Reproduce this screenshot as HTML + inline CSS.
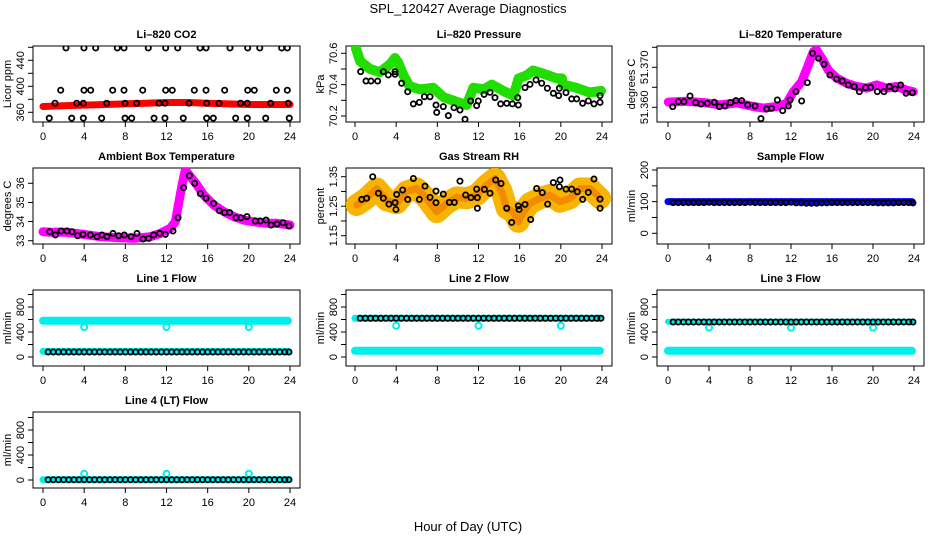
<!DOCTYPE html>
<html><head><meta charset="utf-8"><style>
body{margin:0;background:#fff}
svg{display:block;font-family:"Liberation Sans",Arial,sans-serif}
</style></head><body>
<svg id="chart" width="936" height="540" viewBox="0 0 936 540" xmlns="http://www.w3.org/2000/svg">
<text x="468" y="13" text-anchor="middle" font-size="13">SPL_120427  Average Diagnostics</text>
<text x="468" y="531" text-anchor="middle" font-size="13">Hour of Day (UTC)</text>
</svg>
<script>
// ---- data ----
const xTicks=[0,4,8,12,16,20,24];
const co2BandH=[0,2,4,6,8,10,12,14,16,18,20,22,24];
const co2BandV=[369,370,371,372,373,374,375,375,374,373,372,372,372];
const co2PtH=[2.23,3.98,5.12,7.22,7.87,10.23,11.92,13.09,15.26,15.84,18.17,19.89,21.06,23.19,23.74,1.72,3.98,4.63,6.77,7.87,9.69,11.92,12.56,14.7,15.84,17.65,19.89,20.53,22.67,23.74,1.17,3.27,3.92,6.19,7.97,9.1,11.27,11.85,14.19,15.9,17.1,19.2,19.85,22.12,23.83,0.61,2.79,3.92,5.7,7.97,8.62,10.79,11.85,13.63,15.9,16.55,18.72,19.85,21.64,23.93];
const co2PtV=[459,459,459,459,459,459,459,459,459,459,459,459,459,459,459,394,394,394,394,394,394,394,394,394,394,394,394,394,394,394,374,374,374,374,374,374,374,374,374,374,374,374,374,374,374,351,351,351,351,351,351,351,351,351,351,351,351,351,351,351];
const presBandH=[0.1,0.49,1.46,2.43,3.4,3.89,4.2,4.7,5.3,6.3,7.6,8.6,9.9,10.85,11.5,12.5,13.3,14.4,15.4,15.9,16.7,17.3,18.3,19.6,20.1,20.2,21.5,22.8,23.9];
const presBandV=[70.63,70.55,70.50,70.48,70.53,70.57,70.54,70.46,70.39,70.37,70.38,70.32,70.29,70.27,70.38,70.37,70.40,70.36,70.33,70.44,70.46,70.49,70.47,70.44,70.44,70.40,70.38,70.35,70.36];
const presPtH=[0.55,1.07,1.55,2.2,2.75,3.24,3.89,3.89,4.53,5.12,5.67,6.25,6.74,7.29,7.87,7.94,8.58,9.07,9.62,10.2,10.69,11.24,11.82,11.98,12.54,13.12,13.6,14.15,14.74,15.29,15.81,15.87,16.52,17.0,17.59,18.14,18.69,19.27,19.79,19.86,20.5,21.05,21.54,22.12,22.67,23.22,23.81,23.81];
const presPtV=[70.483,70.423,70.423,70.423,70.483,70.462,70.466,70.483,70.409,70.355,70.277,70.287,70.323,70.323,70.270,70.223,70.260,70.202,70.253,70.238,70.179,70.296,70.266,70.296,70.338,70.351,70.317,70.277,70.281,70.277,70.317,70.270,70.381,70.402,70.430,70.409,70.377,70.345,70.330,70.377,70.349,70.309,70.309,70.281,70.296,70.277,70.287,70.330];
const tempBandH=[0.03,1.82,3.77,5.07,6.7,8.33,9.3,10.6,11.58,12.23,13.04,13.69,14.18,14.5,14.99,15.64,16.46,17.43,18.41,19.38,20.36,21.33,22.31,23.28,23.93];
const tempBandV=[51.3613,51.3615,51.3611,51.3606,51.3611,51.3602,51.3598,51.3602,51.3610,51.3639,51.3664,51.3706,51.3739,51.3743,51.3723,51.3693,51.3673,51.3660,51.3652,51.3648,51.3656,51.3648,51.3652,51.3643,51.3639];
const tempPtH=[0.46,1.01,1.56,2.15,2.7,3.22,3.84,4.52,5.01,5.56,6.11,6.63,7.19,7.77,8.49,9.07,9.63,10.11,10.67,11.19,11.74,11.9,12.49,13.04,13.59,14.11,14.67,15.22,15.8,16.45,17.0,17.59,18.17,18.67,19.28,19.77,20.42,21.07,21.59,22.15,22.7,23.22,23.84];
const tempPtV=[51.36017,51.36142,51.36142,51.36283,51.36117,51.36083,51.361,51.36125,51.36017,51.36033,51.36117,51.36167,51.36167,51.36058,51.36033,51.35717,51.35958,51.35975,51.36183,51.35917,51.36033,51.36183,51.36392,51.36158,51.36617,51.3735,51.37225,51.37075,51.36808,51.36708,51.36658,51.36558,51.36517,51.36392,51.36492,51.365,51.36392,51.36392,51.36517,51.36458,51.36558,51.3635,51.36367];
const ambBandH=[0,0.71,2.33,3.95,5.57,7.19,8.81,10.43,11.4,12.37,12.86,13.18,13.51,13.83,14.32,14.96,15.61,16.58,17.56,18.53,19.5,20.47,21.77,22.74,24.0];
const ambBandV=[33.47,33.44,33.44,33.33,33.21,33.16,33.12,33.21,33.38,33.65,33.99,34.95,35.91,36.70,36.35,35.91,35.39,34.87,34.52,34.26,34.08,33.99,33.91,33.91,33.82];
const ambPtH=[0.65,1.2,1.75,2.33,2.82,3.37,3.89,4.6,5.25,5.73,6.22,6.8,7.35,7.9,8.55,9.13,9.72,10.27,10.75,11.34,11.89,12.63,13.12,13.67,14.22,14.74,15.29,15.84,16.58,17.13,17.65,18.14,18.75,19.24,19.82,20.63,21.12,21.67,22.16,22.74,23.32,23.9];
const ambPtV=[33.47,33.30,33.51,33.51,33.47,33.26,33.33,33.30,33.21,33.30,33.21,33.38,33.26,33.30,33.21,33.38,33.09,33.12,33.30,33.38,33.33,33.51,34.20,35.77,36.40,36.0,35.46,35.22,34.95,34.57,34.47,34.47,34.20,34.20,34.26,34.03,34.03,34.08,33.82,33.87,33.94,33.77];
const rhBandH=[0.16,1.13,2.11,3.08,4.05,5.02,5.99,6.96,7.94,8.91,9.88,10.85,11.82,12.79,13.6,14.25,14.74,15.39,15.87,16.36,17.0,17.98,18.95,19.92,20.89,21.86,22.83,23.81];
const rhBandV=[1.254,1.277,1.31,1.27,1.26,1.30,1.31,1.277,1.23,1.26,1.28,1.277,1.288,1.322,1.344,1.30,1.243,1.23,1.197,1.23,1.26,1.277,1.288,1.265,1.277,1.31,1.31,1.277];
const rhPtH=[0.65,1.13,1.72,2.27,2.75,3.3,3.89,3.98,4.05,4.63,5.12,5.67,6.25,6.8,7.29,7.87,7.87,8.58,9.17,9.65,10.2,10.75,11.27,11.82,11.89,11.89,12.57,13.12,13.67,14.19,14.74,15.22,15.87,15.94,16.52,17.07,17.65,18.2,18.72,19.27,19.86,19.92,20.5,21.05,21.6,22.12,22.67,23.22,23.81,23.81];
const rhPtV=[1.273,1.277,1.35,1.294,1.277,1.257,1.262,1.239,1.29,1.305,1.273,1.344,1.273,1.318,1.28,1.301,1.262,1.291,1.263,1.263,1.335,1.288,1.279,1.308,1.243,1.279,1.307,1.294,1.339,1.327,1.243,1.195,1.251,1.239,1.256,1.205,1.310,1.296,1.257,1.330,1.316,1.339,1.308,1.308,1.299,1.273,1.297,1.342,1.274,1.243];
const flowH=[0.5,1.0,1.5,2.0,2.5,3.0,3.5,4.0,4.5,5.0,5.5,6.0,6.5,7.0,7.5,8.0,8.5,9.0,9.5,10.0,10.5,11.0,11.5,12.0,12.5,13.0,13.5,14.0,14.5,15.0,15.5,16.0,16.5,17.0,17.5,18.0,18.5,19.0,19.5,20.0,20.5,21.0,21.5,22.0,22.5,23.0,23.5,23.9];
const sampleV=[97,97,97,97,97,97,97,98,97,97,97,97,97,97,97,98,97,97,97,97,97,97,97,98,96,96,95,95,95,96,96,97,97,97,97,97,97,97,97,97,96,96,96,96,97,97,97,96];
const line1V=[80,80,80,80,80,80,80,80,80,80,80,80,80,80,80,80,80,80,80,80,80,80,80,80,80,80,80,80,80,80,80,80,80,80,80,80,80,80,80,80,80,80,80,80,80,80,80,80];
const line2V=[620,620,620,620,620,620,620,620,620,620,620,620,620,620,620,620,620,620,620,620,620,620,620,620,620,620,620,620,620,620,620,620,620,620,620,620,620,620,620,620,620,620,620,620,620,620,620,620];
const line3V=[560,560,560,560,560,560,560,560,560,560,560,560,560,560,560,560,560,560,560,560,560,560,560,560,560,560,560,560,560,560,560,560,560,560,560,560,560,560,560,560,560,560,560,560,560,560,560,560];
const line4V=[5,5,5,5,5,5,5,5,5,5,5,5,5,5,5,5,5,5,5,5,5,5,5,5,5,5,5,5,5,5,5,5,5,5,5,5,5,5,5,5,5,5,5,5,5,5,5,5];
const dipH=[4,12,20];
const line1Dip=[480,480,480];
const line2Dip=[500,500,500];
const line3Dip=[470,470,470];
const line4Dip=[100,100,100];
const bandSpanH=[0,23.8];
const sampleBand=[100,100];
const line1HiBand=[580,580];
const line1LoBand=[90,90];
const line2HiBand=[620,620];
const line2LoBand=[100,100];
const line3HiBand=[565,565];
const line3LoBand=[100,100];
const line4Band=[5,5];

// ---- layout ----
const svg=document.getElementById('chart');
const NS='http://www.w3.org/2000/svg';
const cols=[{l:33,r:300,x0:43,x1:290},{l:346,r:612,x0:355,x1:602},{l:657,r:924,x0:668,x1:914}];
const rowTop=[46,168,290,412];
const H=76;
function mk(tag,attrs,parent){const e=document.createElementNS(NS,tag);for(const k in attrs)e.setAttribute(k,attrs[k]);(parent||svg).appendChild(e);return e;}

function panel(name,title,ylab,c,r,yA,yB,yTicks,yLabels,fmt){
  const col=cols[c],top=rowTop[r],bot=top+H;
  const g=mk('g',{});
  
  
  const xs=h=>col.x0+(col.x1-col.x0)*h/24;
  const ys=v=>yA[1]+(yB[1]-yA[1])*(v-yA[0])/(yB[0]-yA[0]);
  const t=mk('text',{x:(col.l+col.r)/2,y:top-8,'text-anchor':'middle','font-size':11,'font-weight':'bold'},g);
  t.textContent=title;
  
  
  const box=mk('rect',{x:col.l,y:top,width:col.r-col.l,height:H,fill:'none',stroke:'#000','stroke-width':1},g);
  
  
  const xa=mk('g',{},g);
  
  
  mk('line',{x1:xs(0),x2:xs(24),y1:bot,y2:bot,stroke:'#000'},xa);
  xTicks.forEach(v=>{mk('line',{x1:xs(v),x2:xs(v),y1:bot,y2:bot+5,stroke:'#000'},xa);
    const tl=mk('text',{x:xs(v),y:bot+18,'text-anchor':'middle','font-size':11},xa);tl.textContent=v;
    
    });
  const ya=mk('g',{},g);
  
  
  mk('line',{x1:col.l,x2:col.l,y1:ys(yTicks[0]),y2:ys(yTicks[yTicks.length-1]),stroke:'#000'},ya);
  yTicks.forEach(v=>mk('line',{x1:col.l-5,x2:col.l,y1:ys(v),y2:ys(v),stroke:'#000'},ya));
  yLabels.forEach(v=>{const y=ys(v),x=col.l-9;
    const tl=mk('text',{x:x,y:y,'text-anchor':'middle','font-size':11,transform:`rotate(-90 ${x} ${y})`},ya);tl.textContent=fmt(v);
    
    });
  const yx=col.l-22,yy=(top+bot)/2;
  const yt=mk('text',{x:yx,y:yy,'text-anchor':'middle','font-size':11,transform:`rotate(-90 ${yx} ${yy})`},g);
  yt.textContent=ylab;
  
  
  const clip='clip'+name;
  const cp=mk('clipPath',{id:clip},g);mk('rect',{x:col.l,y:top,width:col.r-col.l,height:H},cp);
  const data=mk('g',{'clip-path':`url(#${clip})`},g);
  return {
    band(hs,vs,color,w,nm,op){const p=mk('polyline',{points:hs.map((h,i)=>xs(h)+','+ys(vs[i])).join(' '),fill:'none',stroke:color,'stroke-width':w,'stroke-linejoin':'round','stroke-linecap':'round','stroke-opacity':op||1},data);
      
      },
    pts(hs,vs,color,nm,rad,sw){const gg=mk('g',{},data);
      
      
      hs.forEach((h,i)=>mk('circle',{cx:xs(h),cy:ys(vs[i]),r:rad||2.6,fill:'none',stroke:color,'stroke-width':sw||1.8},gg));}
  };
}
const f0=v=>String(v);
const f1=v=>v.toFixed(1);
const f2=v=>v.toFixed(2);
const f3=v=>v.toFixed(3);

let p;
p=panel('co2-panel','Li\u2013820 CO2','Licor ppm',0,0,[360,112.3],[400,86.3],[360,380,400,420,440,460],[360,400,440],f0);
p.band(co2BandH,co2BandV,'#ff0000',7,'co2-band');
p.pts(co2PtH,co2PtV,'#000','co2-points');

p=panel('pressure-panel','Li\u2013820 Pressure','kPa',1,0,[70.2,116],[70.6,53.3],[70.2,70.3,70.4,70.5,70.6],[70.2,70.4,70.6],f1);
p.band(presBandH,presBandV,'#22dd00',10,'pressure-band');
p.pts(presPtH,presPtV,'#000','pressure-points');

p=panel('temperature-panel','Li\u2013820 Temperature','degrees C',2,0,[51.360,107.3],[51.370,67.3],[51.360,51.365,51.370,51.375],[51.360,51.370],f3);
p.band(tempBandH,tempBandV,'#ff00ff',9,'temperature-band');
p.pts(tempPtH,tempPtV,'#000','temperature-points');

p=panel('ambient-panel','Ambient Box Temperature','degrees C',0,1,[33,240.7],[36,183.3],[33,34,35,36],[33,34,35,36],f0);
p.band(ambBandH,ambBandV,'#ff00ff',9,'ambient-band');
p.pts(ambPtH,ambPtV,'#000','ambient-points');

p=panel('rh-panel','Gas Stream RH','percent',1,1,[1.15,235.7],[1.35,176.7],[1.15,1.20,1.25,1.30,1.35],[1.15,1.25,1.35],f2);
p.band(rhBandH,rhBandV,'#f8b400',22,'rh-band');
p.band(rhBandH,rhBandV,'#f07000',7,'rh-band-core',0.6);
p.pts(rhPtH,rhPtV,'#000','rh-points');

p=panel('sample-flow-panel','Sample Flow','ml/min',2,1,[0,233.3],[200,170],[0,50,100,150,200],[0,100,200],f0);
p.band(bandSpanH,sampleBand,'#0000ff',7,'sample-flow-band');
p.pts(flowH,sampleV,'#000','sample-flow-points');

const ft=[0,200,400,600,800,1000],fl=[0,400,800];
p=panel('line1-flow-panel','Line 1 Flow','ml/min',0,2,[0,357],[800,307],ft,fl,f0);
p.band(bandSpanH,line1HiBand,'#00eeee',8,'line1-high-band');
p.band(bandSpanH,line1LoBand,'#00eeee',7,'line1-low-band');
p.pts(dipH,line1Dip,'#00eeee','line1-dips',3,2);
p.pts(flowH,line1V,'#000','line1-points');

p=panel('line2-flow-panel','Line 2 Flow','ml/min',1,2,[0,357],[800,307],ft,fl,f0);
p.band(bandSpanH,line2HiBand,'#00eeee',7,'line2-high-band');
p.band(bandSpanH,line2LoBand,'#00eeee',8,'line2-low-band');
p.pts(dipH,line2Dip,'#00eeee','line2-dips',3,2);
p.pts(flowH,line2V,'#000','line2-points');

p=panel('line3-flow-panel','Line 3 Flow','ml/min',2,2,[0,357],[800,307],ft,fl,f0);
p.band(bandSpanH,line3HiBand,'#00eeee',6,'line3-high-band');
p.band(bandSpanH,line3LoBand,'#00eeee',8,'line3-low-band');
p.pts(dipH,line3Dip,'#00eeee','line3-dips',3,2);
p.pts(flowH,line3V,'#000','line3-points');

p=panel('line4-flow-panel','Line 4 (LT) Flow','ml/min',0,3,[0,480],[800,430],ft,fl,f0);
p.band(bandSpanH,line4Band,'#00eeee',7,'line4-band');
p.pts(dipH,line4Dip,'#00eeee','line4-bumps',3,2);
p.pts(flowH,line4V,'#000','line4-points');
</script>
</body></html>
